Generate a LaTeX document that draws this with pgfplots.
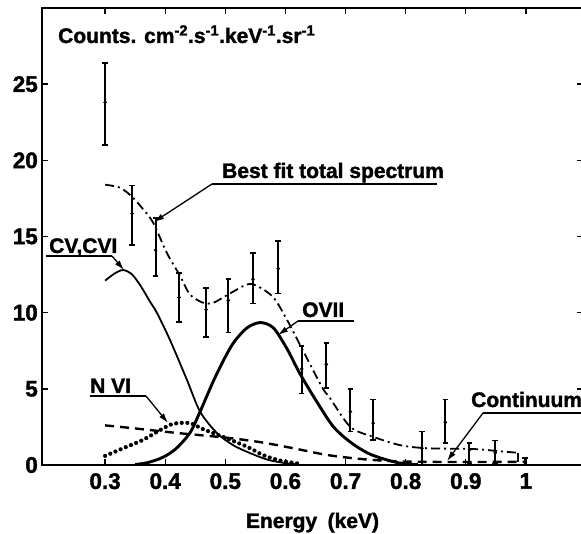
\documentclass[border=0pt]{standalone}
\usepackage{pgfplots}
\pgfplotsset{compat=1.18}
\usepackage{fontspec}
\setmainfont{Liberation Sans}[FakeBold=1.6]
\usetikzlibrary{arrows.meta}

\pgfplotstableread{
x      y     ep    em
0.300  23.8  2.6   2.8
0.345  16.5  1.85  2.05
0.384  14.1  2.1   1.7
0.423  11.0  1.6   1.6
0.468  10.2  1.4   1.8
0.505  10.8  1.4   2.1
0.546  12.2  1.7   1.6
0.588  12.9  1.8   1.65
0.627  6.3   1.5   1.6
0.668  6.6   1.4   1.55
0.708  3.5   1.5   1.3
0.746  2.75  1.55  1.1
0.827  1.1   1.1   1.1
0.866  2.8   1.5   1.35
0.906  1.0   0.45  0.9
0.949  0.8   0.8   0.7
0.999  0.2   0.25  0.2
}\obsdata

\begin{document}
\fontsize{21}{25}\selectfont
\begin{tikzpicture}[x=1pt,y=1pt]
\begin{axis}[
  scale only axis, width=541pt, height=457pt,
  at={(42pt,69pt)}, anchor=south west,
  xmin=0.195, xmax=1.095, ymin=0, ymax=30,
  xtick={0.3,0.4,0.5,0.6,0.7,0.8,0.9,1.0},
  xticklabels={0.3,0.4,0.5,0.6,0.7,0.8,0.9,1},
  ytick={0,5,10,15,20,25},
  yticklabels={0,5,10,15,20,25},
  tick align=inside, major tick length=6pt,
  axis line style={line width=1.5pt},
  every tick/.style={black, line width=1.4pt},
  ticklabel style={font=\fontsize{22.5}{26}\selectfont\bfseries},
  xticklabel style={anchor=north, inner sep=0pt, yshift=-8pt},
  yticklabel style={anchor=east, inner sep=0pt, xshift=-4pt},
  xlabel={\bfseries Energy\hspace{0.5em}(keV)},
  xlabel style={at={(axis description cs:0.5,0)}, anchor=base, yshift=-63pt},
]
% observed counts with error bars
\addplot[only marks, black, mark=*, mark size=1.6pt,
  error bars/.cd, y dir=both, y explicit,
  error bar style={line width=2pt, black},
  error mark options={rotate=90, mark size=2.8pt, line width=1.6pt, black}]
  table[x=x, y=y, y error plus=ep, y error minus=em] {\obsdata};

% CV, CVI
\addplot[black, line width=1.8pt, smooth, tension=0.5] coordinates {
  (0.300,12.1) (0.315,12.55) (0.330,12.8) (0.345,12.5) (0.360,11.7)
  (0.375,10.7) (0.386,10.0) (0.408,8.2) (0.436,5.6) (0.458,3.5)
  (0.486,2.1) (0.513,1.3) (0.540,0.8) (0.570,0.35) (0.600,0.12) (0.620,0.04)
};

% OVII
\addplot[black, line width=2.9pt, smooth, tension=0.5] coordinates {
  (0.350,0.03) (0.370,0.15) (0.390,0.4) (0.405,0.7) (0.420,1.15)
  (0.441,2.1) (0.458,3.5) (0.480,5.5) (0.500,7.1) (0.515,8.1)
  (0.536,9.0) (0.558,9.35) (0.580,9.0) (0.603,7.6) (0.624,6.0)
  (0.653,4.1) (0.680,2.5) (0.708,1.5) (0.736,0.8) (0.763,0.4)
  (0.790,0.13) (0.820,0.02)
};

% N VI
\addplot[black, line width=4.2pt, line cap=round, dash pattern=on 0pt off 5.6pt, smooth, tension=0.5] coordinates {
  (0.300,0.6) (0.330,1.1) (0.363,1.65) (0.392,2.3) (0.413,2.7)
  (0.441,2.75) (0.463,2.35) (0.496,1.85) (0.536,1.2) (0.563,0.65)
  (0.590,0.3) (0.620,0.1)
};

% continuum
\addplot[black, line width=2.4pt, dash pattern=on 9pt off 6pt, smooth, tension=0.5] coordinates {
  (0.300,2.6) (0.350,2.4) (0.420,2.1) (0.500,1.8) (0.558,1.5)
  (0.613,1.1) (0.669,0.66) (0.724,0.4) (0.780,0.25) (0.850,0.2)
  (0.950,0.2) (1.000,0.2)
};

% best fit total spectrum
\addplot[black, line width=1.8pt, dash pattern=on 9pt off 4pt on 2pt off 4pt, smooth, tension=0.5] coordinates {
  (0.300,18.4) (0.325,18.2) (0.345,17.6) (0.363,16.8) (0.380,15.9)
  (0.403,13.9) (0.425,12.4) (0.441,11.2) (0.463,10.65) (0.480,10.65)
  (0.505,11.2) (0.536,11.85) (0.553,11.75) (0.580,11.0) (0.603,9.5)
  (0.628,7.6) (0.661,5.1) (0.674,4.4) (0.708,2.5) (0.746,1.85)
  (0.791,1.3) (0.836,1.1) (0.912,1.05) (0.957,0.9) (0.987,0.8)
};
\addplot[black, line width=1.8pt] coordinates {(0.987,0.8) (0.987,0.2)};
\end{axis}

\bfseries
% counts label
\node[anchor=base west, inner sep=0pt] at (58,491)
  {Counts. cm\textsuperscript{-2}.s\textsuperscript{-1}.keV\textsuperscript{-1}.sr\textsuperscript{-1}};

\tikzset{lead/.style={line width=1.3pt, -{Latex[length=10pt,width=6pt]}}}
% best fit
\node[anchor=base west, inner sep=0pt] at (222,356) {Best fit total spectrum};
\draw[line width=1.3pt] (437,350) -- (212,350);
\draw[lead] (212,350) -- (154,312);
% CV,CVI
\node[anchor=base west, inner sep=0pt] at (49,281) {CV,CVI};
\draw[line width=1.3pt] (46,278) -- (112,278);
\draw[lead] (112,278) -- (124,264);
% OVII
\node[anchor=base west, inner sep=0pt] at (302,217) {OVII};
\draw[line width=1.3pt] (354,213) -- (298,213);
\draw[lead] (298,213) -- (278,199);
% N VI
\node[anchor=base west, inner sep=0pt] at (90,141) {N VI};
\draw[line width=1.3pt] (90,138) -- (146,138);
\draw[lead] (146,138) -- (168,111);
% continuum
\node[anchor=base west, inner sep=0pt] at (471,127) {Continuum};
\draw[line width=1.3pt] (581,121) -- (483,121);
\draw[lead] (483,121) -- (447,73);

\pgfresetboundingbox
\useasboundingbox (0,0) rectangle (581,534);
\end{tikzpicture}
\end{document}
